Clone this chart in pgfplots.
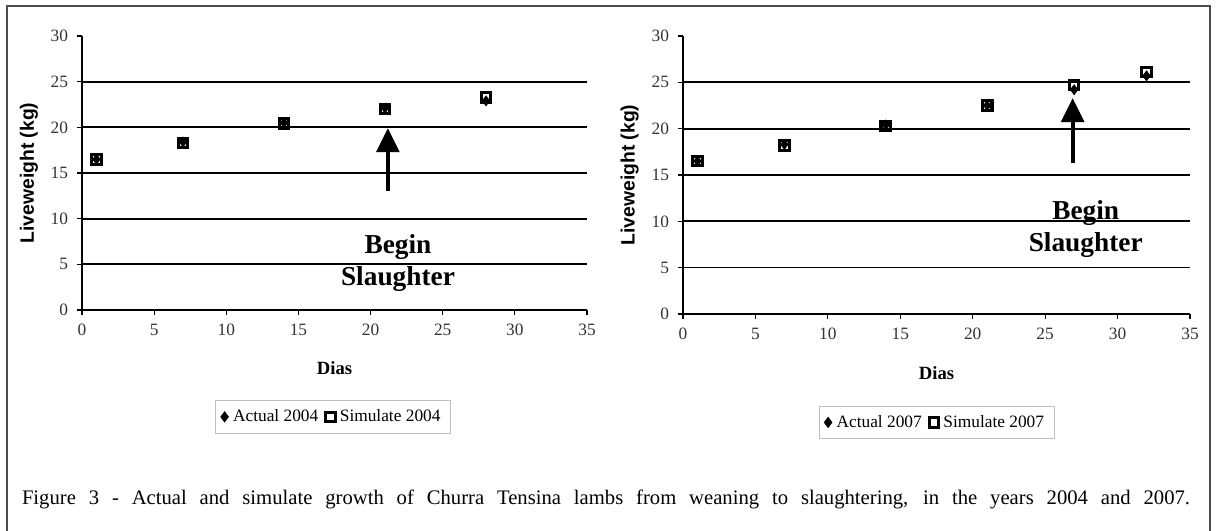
\documentclass[border=0pt]{standalone}
\usepackage{pgfplots}
\pgfplotsset{compat=1.18}
\usepackage{fontspec}
\setmainfont{Liberation Serif}
\setsansfont{Liberation Sans}
\usetikzlibrary{arrows.meta}

\pgfplotsset{
  lambaxis/.style={
    scale only axis,
    xmin=0,xmax=35,ymin=0,ymax=30,
    xtick={0,5,...,35}, ytick={0,5,...,30},
    axis x line=bottom, axis y line=left,
    axis line style={-, line width=1.2pt},
    tick align=outside, major tick length=4pt,
    tick style={line width=0.9pt, black},
    tick label style={font=\fontsize{13}{14}\selectfont, text=black!80},
    xticklabel style={yshift=-3pt},
    yticklabel style={xshift=-3pt},
    /pgf/number format/assume math mode=true,
    xlabel={\textbf{Dias}},
    xlabel style={font=\fontsize{14}{16}\selectfont, at={(axis description cs:0.5,-0.213)}, anchor=center},
    ylabel={\sffamily\bfseries Liveweight (kg)},
    ylabel style={font=\fontsize{14.5}{16}\selectfont, at={(axis description cs:-0.105,0.5)}, anchor=center},
    legend columns=2,
    legend style={draw=black!25, line width=0.6pt, font=\fontsize{13}{15}\selectfont, anchor=center,
      inner xsep=4pt, inner ysep=5pt,
      nodes={inner xsep=3.5pt},
      /tikz/every even column/.append style={column sep=2pt}},
    clip=false,
  },
  actual/.style={only marks, mark=diamond*, mark size=3.8pt, black},
  simul/.style={only marks, mark=square, mark size=3.6pt, black, mark options={line width=2.3pt}},
}

\begin{document}
\begin{tikzpicture}
\useasboundingbox (0,0) rectangle (912pt,398.25pt);
\draw[black!70, line width=1.2pt] (5.25pt,-5pt) -- (5.25pt,393.75pt) -- (907.5pt,393.75pt) -- (907.5pt,-5pt);

% Left panel (2004)
\begin{axis}[lambaxis, at={(61.5pt,165.75pt)}, anchor=south west,
  width=378.75pt, height=205.5pt,
  legend style={at={(axis description cs:0.497,-0.39)}}]
  \draw[line width=1.3pt] (axis cs:0,5) -- (axis cs:35,5);
  \draw[line width=1.3pt] (axis cs:0,10) -- (axis cs:35,10);
  \draw[line width=1.3pt] (axis cs:0,15) -- (axis cs:35,15);
  \draw[line width=1.3pt] (axis cs:0,20) -- (axis cs:35,20);
  \draw[line width=1.3pt] (axis cs:0,25) -- (axis cs:35,25);
  \addplot[actual] coordinates {(1,16.5)(7,18.4)(14,20.5)(21,22.1)(28,22.9)};
  \addlegendentry{Actual 2004}
  \addplot[simul] coordinates {(1,16.5)(7,18.3)(14,20.4)(21,22.0)(28,23.3)};
  \addlegendentry{Simulate 2004}
  \draw[line width=3pt, -{Triangle[length=18pt, width=17pt]}] (axis cs:21.2,13) -- (axis cs:21.2,19.9);
  \node[align=center, font=\fontsize{20.5}{24}\selectfont\bfseries] at (axis cs:21.9,5.1) {Begin\\Slaughter};
\end{axis}

% Right panel (2007)
\begin{axis}[lambaxis, at={(512.25pt,162.75pt)}, anchor=south west,
  width=380.25pt, height=208.5pt,
  legend style={at={(axis description cs:0.5,-0.39)}}]
  \draw[line width=0.7pt] (axis cs:0,5) -- (axis cs:35,5);
  \draw[line width=1.3pt] (axis cs:0,10) -- (axis cs:35,10);
  \draw[line width=1.3pt] (axis cs:0,15) -- (axis cs:35,15);
  \draw[line width=1.3pt] (axis cs:0,20) -- (axis cs:35,20);
  \draw[line width=1.3pt] (axis cs:0,25) -- (axis cs:35,25);
  \addplot[actual] coordinates {(1,16.5)(7,18.3)(14,20.4)(21,22.5)(27,24.2)(32,25.7)};
  \addlegendentry{Actual 2007}
  \addplot[simul] coordinates {(1,16.5)(7,18.2)(14,20.3)(21,22.5)(27,24.7)(32,26.1)};
  \addlegendentry{Simulate 2007}
  \draw[line width=3pt, -{Triangle[length=18pt, width=17pt]}] (axis cs:26.9,16.3) -- (axis cs:26.9,23.3);
  \node[align=center, font=\fontsize{20.5}{24}\selectfont\bfseries] at (axis cs:27.8,9.15) {Begin\\Slaughter};
\end{axis}

\node[anchor=center, font=\fontsize{15.5}{17}\selectfont] at (454.5pt,24pt)
  {\makebox[876pt][s]{Figure 3 - Actual and simulate growth of Churra Tensina lambs from weaning to slaughtering, in the years 2004 and 2007.}};
\end{tikzpicture}
\end{document}
